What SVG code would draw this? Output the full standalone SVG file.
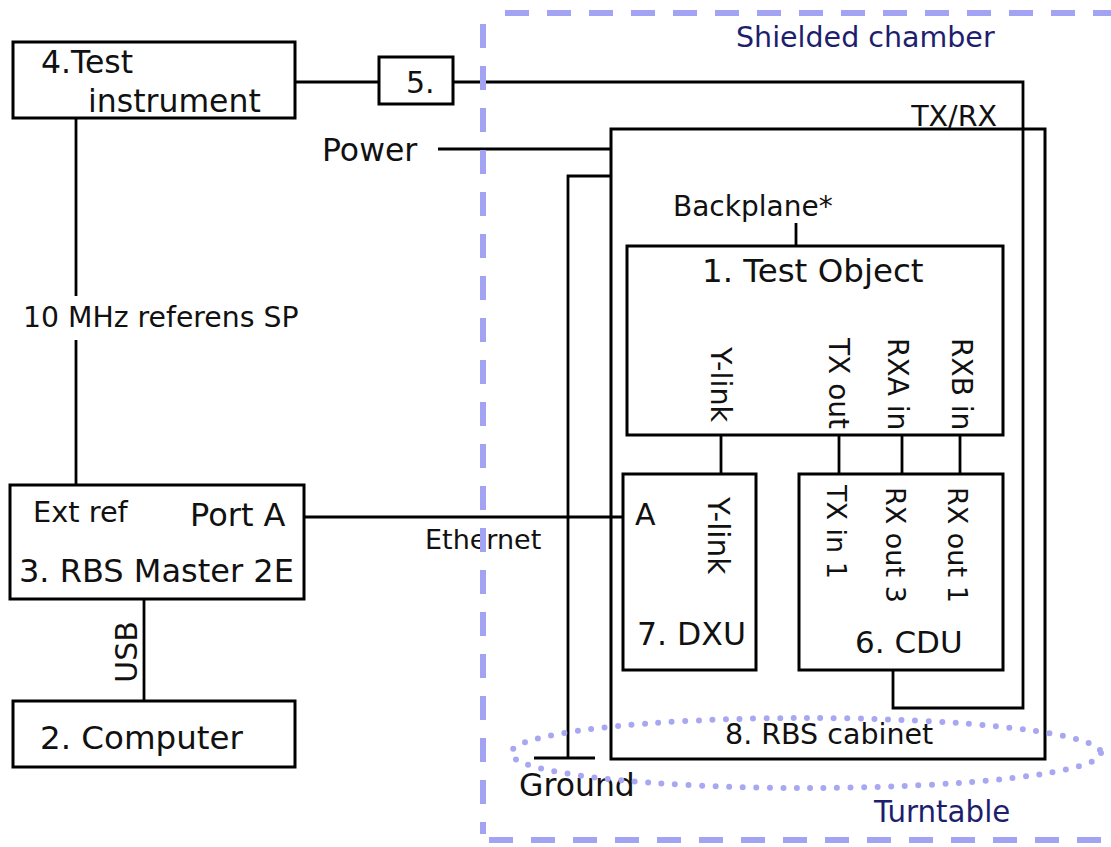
<svg xmlns="http://www.w3.org/2000/svg" width="1111" height="847" viewBox="0 0 1111 847">
<style>
  .box { fill: #ffffff; stroke: #000; stroke-width: 3; }
  .wire { fill: none; stroke: #000; stroke-width: 2.8; }
  text { font-family: "DejaVu Sans", Verdana, sans-serif; fill: #111; }
  .big { font-size: 30px; }
  .xl { font-size: 31.5px; }
  .xxl { font-size: 32.5px; }
  .mid { font-size: 28.5px; }
  .sm { font-size: 28px; }
  .navy { fill: #1e1e6e; font-size: 28.5px; }
  .chamber { fill: none; stroke: #a3a3f3; stroke-width: 6; stroke-dasharray: 24 18; }
  .turn { fill: none; stroke: #a8a8f2; stroke-width: 6; stroke-dasharray: 0 13.5; stroke-linecap: round; }
</style>
<rect x="0" y="0" width="1111" height="847" fill="#ffffff"/>

<g id="rbs-cabinet">
  <rect class="box" x="611" y="129" width="434" height="630"/>
  <text class="mid" x="725" y="744">8. RBS cabinet</text>
</g>

<g id="connectors">
  <path class="wire" d="M295,82 H379"/>
  <path class="wire" d="M453,82 H1023 V708 H893 V670"/>
  <text class="mid" x="997" y="126" text-anchor="end">TX/RX</text>
  <path class="wire" d="M76,118 V296"/>
  <path class="wire" d="M76,340 V485"/>
  <text class="sm" x="23" y="327" style="font-size:28.3px">10 MHz referens SP</text>
  <path class="wire" d="M438,149 H611"/>
  <text class="xl" x="322" y="161">Power</text>
  <path class="wire" d="M611,176 H568 V758"/>
  <path class="wire" d="M534,758 H595"/>
  <text class="xl" x="519" y="796">Ground</text>
  <path class="wire" d="M796,223 V246"/>
  <text class="sm" x="673" y="216">Backplane*</text>
  <path class="wire" d="M304,517 H623"/>
  <text class="sm" x="425" y="549" style="font-size:27px">Ethernet</text>
  <path class="wire" d="M144,599 V701"/>
  <text class="big" transform="translate(137,652) rotate(-90)" text-anchor="middle">USB</text>
  <path class="wire" d="M721,435 V474"/>
  <path class="wire" d="M839,435 V474"/>
  <path class="wire" d="M902,435 V474"/>
  <path class="wire" d="M960,435 V474"/>
</g>

<g id="test-instrument">
  <rect class="box" x="13" y="42" width="282" height="76"/>
  <text class="xl" x="41" y="73">4.Test</text>
  <text class="xl" x="88" y="112">instrument</text>
</g>

<g id="unit-5">
  <rect class="box" x="379" y="57" width="74" height="47"/>
  <text class="big" x="406" y="93">5.</text>
</g>

<g id="rbs-master">
  <rect class="box" x="10" y="485" width="294" height="114"/>
  <text class="sm" x="33" y="522" style="font-size:28.8px">Ext ref</text>
  <text class="xxl" x="190" y="526" style="font-size:32px">Port A</text>
  <text class="xxl" x="19" y="582" style="font-size:32px">3. RBS Master 2E</text>
</g>

<g id="computer">
  <rect class="box" x="13" y="701" width="282" height="66"/>
  <text class="xxl" x="40" y="749">2. Computer</text>
</g>

<g id="test-object">
  <rect class="box" x="627" y="246" width="376" height="189"/>
  <text class="xxl" x="702" y="282">1. Test Object</text>
  <text class="mid" transform="translate(711,347) rotate(90)" style="font-size:28.7px">Y-link</text>
  <text class="sm" transform="translate(829,338) rotate(90)">TX out</text>
  <text class="sm" transform="translate(888,338) rotate(90)">RXA in</text>
  <text class="sm" transform="translate(952,338) rotate(90)">RXB in</text>
</g>

<g id="dxu">
  <rect class="box" x="623" y="474" width="133" height="196"/>
  <text class="big" x="635" y="525">A</text>
  <text class="mid" transform="translate(708,497) rotate(90)" style="font-size:29.5px">Y-link</text>
  <text class="xl" x="637" y="645">7. DXU</text>
</g>

<g id="cdu">
  <rect class="box" x="799" y="474" width="204" height="196"/>
  <text class="sm" transform="translate(827,485) rotate(90)" style="font-size:27px">TX in 1</text>
  <text class="sm" transform="translate(886,487) rotate(90)" style="font-size:27px">RX out 3</text>
  <text class="sm" transform="translate(948,487) rotate(90)" style="font-size:27px">RX out 1</text>
  <text class="xl" x="855" y="653" style="font-size:31px">6. CDU</text>
</g>

<g id="shielded-chamber">
  <path class="chamber" d="M483,24 V834"/>
  <path class="chamber" d="M505,13 H1111"/>
  <path class="chamber" d="M489,840 H1111"/>
  <text class="navy" x="736" y="47">Shielded chamber</text>
</g>

<g id="turntable">
  <ellipse class="turn" cx="806" cy="753" rx="295" ry="35"/>
  <text class="navy" x="874" y="822" style="font-size:29.3px">Turntable</text>
</g>
</svg>
